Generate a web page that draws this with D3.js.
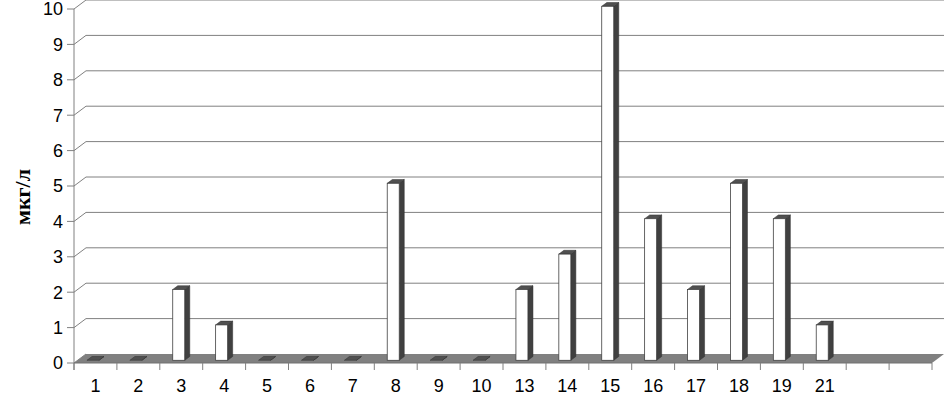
<!DOCTYPE html>
<html>
<head>
<meta charset="utf-8">
<script src="https://cdn.jsdelivr.net/npm/d3@7"></script>
<style>
  body { margin: 0; background: #fff; }
  .tick-label { font-family: "Liberation Sans", Arial, sans-serif; font-size: 18px; fill: #000; }
  .y-title { font-family: "Liberation Serif", "Times New Roman", serif; font-size: 22px; font-weight: bold; fill: #000; }
</style>
</head>
<body>
<div id="chart"></div>
<script>
// categories (last two slots are empty in the original)
const categories = ['1', '2', '3', '4', '5', '6', '7', '8', '9', '10', '13', '14', '15', '16', '17', '18', '19', '21', '', ''];
const values = [0, 0, 2, 1, 0, 0, 0, 5, 0, 0, 2, 3, 10, 4, 2, 5, 4, 1, null, null];
const yTicks = [0, 1, 2, 3, 4, 5, 6, 7, 8, 9, 10];
const yTitle = 'мкг/л';

const W = 944, H = 395;
const margin = { top: 9, right: 12, bottom: 32, left: 74 };
const depth = { dx: 12, dy: -9 }; // 3D depth of the plot
const f0 = 0.3, f1 = 0.72;        // bar front/back position within depth

const svg = d3.select('#chart')
  .append('svg')
  .attr('width', W)
  .attr('height', H);

const x = d3.scaleBand()
  .domain(d3.range(categories.length))
  .range([margin.left, W - margin.right]);

const y = d3.scaleLinear()
  .domain([0, 10])
  .range([H - margin.bottom, margin.top]);

const y0 = y(0);
const xEnd = W - margin.right;

// back wall gridlines
svg.append('g')
  .selectAll('line')
  .data(yTicks.filter(d => d > 0))
  .enter()
  .append('line')
  .attr('x1', margin.left + depth.dx)
  .attr('x2', xEnd + depth.dx)
  .attr('y1', d => y(d) + depth.dy)
  .attr('y2', d => y(d) + depth.dy)
  .attr('stroke', '#808080')
  .attr('stroke-width', 1);

// diagonal connectors from axis to wall
svg.append('g')
  .selectAll('line')
  .data(yTicks)
  .enter()
  .append('line')
  .attr('x1', margin.left)
  .attr('x2', margin.left + depth.dx)
  .attr('y1', d => y(d))
  .attr('y2', d => y(d) + depth.dy)
  .attr('stroke', '#808080');

// floor
svg.append('polygon')
  .attr('points', [
    [margin.left, y0],
    [xEnd, y0],
    [xEnd + depth.dx, y0 + depth.dy],
    [margin.left + depth.dx, y0 + depth.dy]
  ].map(p => p.join(',')).join(' '))
  .attr('fill', '#808080');

// bars
const bw = 12; // front face width
const sideW = (f1 - f0) * depth.dx;
const sideH = (f1 - f0) * depth.dy;
const bars = values
  .map((v, i) => ({ v, i }))
  .filter(d => d.v !== null);

const g = svg.append('g');
bars.forEach(d => {
  const cx = x(d.i) + x.bandwidth() / 2;
  const fx = cx - (bw + sideW) / 2;        // front face left
  const fy = y(d.v) + f0 * depth.dy;       // front face top
  const by = y0 + f0 * depth.dy;           // front face bottom
  // side
  g.append('polygon')
    .attr('points', [
      [fx + bw, fy], [fx + bw + sideW, fy + sideH],
      [fx + bw + sideW, by + sideH], [fx + bw, by]
    ].map(p => p.join(',')).join(' '))
    .attr('fill', '#404040')
    .attr('stroke', '#303030')
    .attr('stroke-width', 0.5);
  // top
  g.append('polygon')
    .attr('points', [
      [fx, fy], [fx + bw, fy], [fx + bw + sideW, fy + sideH], [fx + sideW, fy + sideH]
    ].map(p => p.join(',')).join(' '))
    .attr('fill', '#505050')
    .attr('stroke', '#303030')
    .attr('stroke-width', 0.5);
  // front
  if (d.v > 0) {
    g.append('rect')
      .attr('x', fx)
      .attr('y', fy)
      .attr('width', bw)
      .attr('height', by - fy)
      .attr('fill', '#fff')
      .attr('stroke', '#404040')
      .attr('stroke-width', 0.8);
  }
});

// y axis line
svg.append('line')
  .attr('x1', margin.left).attr('x2', margin.left)
  .attr('y1', y(10)).attr('y2', y0 + 7)
  .attr('stroke', '#808080');

// y ticks
svg.append('g')
  .selectAll('line')
  .data(yTicks)
  .enter()
  .append('line')
  .attr('x1', margin.left - 7)
  .attr('x2', margin.left)
  .attr('y1', d => y(d))
  .attr('y2', d => y(d))
  .attr('stroke', '#808080');

svg.append('g')
  .selectAll('text')
  .data(yTicks)
  .enter()
  .append('text')
  .attr('class', 'tick-label')
  .attr('x', margin.left - 11)
  .attr('y', d => y(d))
  .attr('dy', '0.35em')
  .attr('text-anchor', 'end')
  .text(d => d);

// x axis front line and ticks
svg.append('line')
  .attr('x1', margin.left).attr('x2', xEnd)
  .attr('y1', y0).attr('y2', y0)
  .attr('stroke', '#707070');

svg.append('g')
  .selectAll('line')
  .data(d3.range(categories.length + 1))
  .enter()
  .append('line')
  .attr('x1', i => margin.left + i * x.bandwidth())
  .attr('x2', i => margin.left + i * x.bandwidth())
  .attr('y1', y0)
  .attr('y2', y0 + 7)
  .attr('stroke', '#808080');

svg.append('g')
  .selectAll('text')
  .data(categories)
  .enter()
  .append('text')
  .attr('class', 'tick-label')
  .attr('x', (d, i) => x(i) + x.bandwidth() / 2)
  .attr('y', H - 3)
  .attr('text-anchor', 'middle')
  .text(d => d);

// y axis title
svg.append('text')
  .attr('class', 'y-title')
  .attr('transform', `translate(22, 197) rotate(-90)`)
  .attr('text-anchor', 'middle')
  .attr('dy', '0.35em')
  .text(yTitle);
</script>
</body>
</html>
